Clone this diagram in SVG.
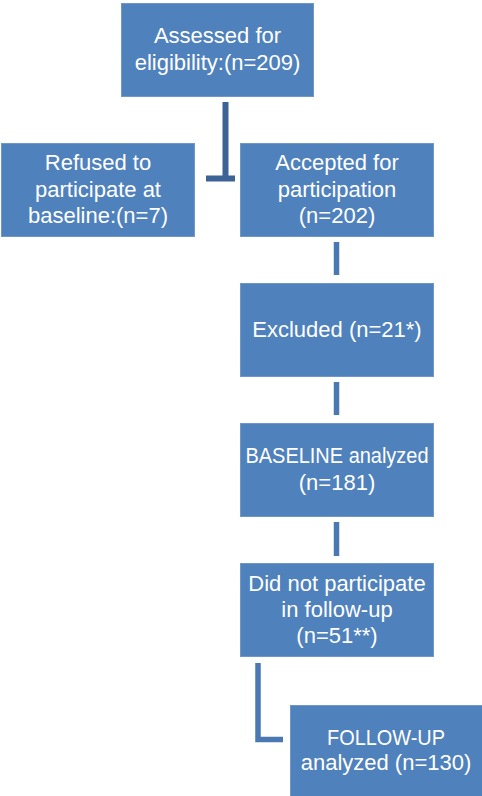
<svg xmlns="http://www.w3.org/2000/svg" width="482" height="796" viewBox="0 0 482 796">
<style>
.box{fill:#4f81bd;stroke:#6f97c8;stroke-width:1}
.t{font-family:"Liberation Sans",Arial,sans-serif;font-size:22px;fill:#ffffff;text-anchor:middle}
.c{fill:none;stroke:#4a78b2;stroke-width:5.5}
.cd{fill:none;stroke:#3b6395;stroke-width:6}
</style>
<rect width="482" height="796" fill="#ffffff"/>
<g id="connectors">
<path class="cd" d="M225.5,102 V178.5 M206,178.5 H235"/>
<path class="c" d="M336.5,242 V275"/>
<path class="c" d="M336.5,382 V415"/>
<path class="c" d="M336.5,522 V556"/>
<path class="c" d="M258,663 V739.5 H283"/>
</g>
<g id="assessed">
<rect class="box" x="121.5" y="3.5" width="192" height="93"/>
<text class="t" x="217.5" y="43">Assessed for</text>
<text class="t" x="217.5" y="70">eligibility:(n=209)</text>
</g>
<g id="refused">
<rect class="box" x="1.5" y="143.5" width="193" height="93"/>
<text class="t" x="98" y="170">Refused to</text>
<text class="t" x="98" y="197">participate at</text>
<text class="t" x="98" y="223">baseline:(n=7)</text>
</g>
<g id="accepted">
<rect class="box" x="240.5" y="143.5" width="193" height="93"/>
<text class="t" x="337" y="170">Accepted for</text>
<text class="t" x="337" y="197">participation</text>
<text class="t" x="337" y="223">(n=202)</text>
</g>
<g id="excluded">
<rect class="box" x="240.5" y="283.5" width="193" height="93"/>
<text class="t" x="337" y="337">Excluded (n=21*)</text>
</g>
<g id="baseline">
<rect class="box" x="240.5" y="423.5" width="193" height="93"/>
<text class="t" x="337" y="463" textLength="183" lengthAdjust="spacingAndGlyphs">BASELINE analyzed</text>
<text class="t" x="337" y="490">(n=181)</text>
</g>
<g id="notparticipate">
<rect class="box" x="240.5" y="563.5" width="193" height="93"/>
<text class="t" x="337" y="591">Did not participate</text>
<text class="t" x="337" y="617">in follow-up</text>
<text class="t" x="337" y="643">(n=51**)</text>
</g>
<g id="followup">
<rect class="box" x="290.5" y="705.5" width="193" height="93"/>
<text class="t" x="386" y="745" textLength="118" lengthAdjust="spacingAndGlyphs">FOLLOW-UP</text>
<text class="t" x="386" y="770">analyzed (n=130)</text>
</g>
</svg>
